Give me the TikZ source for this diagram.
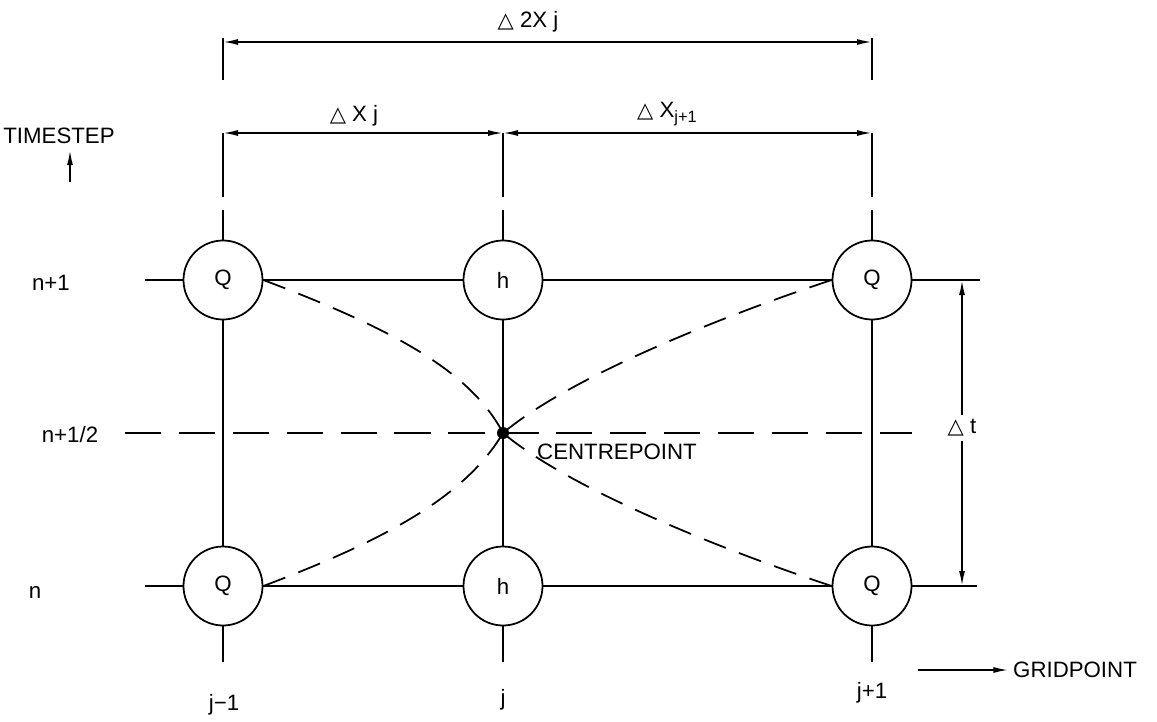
\documentclass[tikz,border=0pt]{standalone}
\usepackage{fontspec}
\setmainfont{Liberation Sans}
\newfontfamily\symfont{DejaVu Sans}
\usetikzlibrary{arrows.meta}
\newcommand{\dlt}{{\symfont\fontsize{18}{18}\selectfont △}}
\tikzset{
  every node/.style={font=\fontsize{19}{22}\selectfont},
  >={Latex[length=4.5mm,width=1.8mm]},
  gridpt/.style={circle, draw, line width=1.5pt, minimum size=2.37cm, inner sep=0pt},
  dashline/.style={dash pattern=on 31pt off 15pt},
  curveline/.style={dash pattern=on 20pt off 12pt}
}
\begin{document}
\begin{tikzpicture}[x=0.03cm, y=-0.03cm, line width=1.5pt]
\useasboundingbox (0,0) rectangle (1157,721);
% grid points
\node[gridpt] (q1t) at (223,280) {Q};
\node[gridpt] (ht) at (503,280) {h};
\node[gridpt] (q3t) at (872,280) {Q};
\node[gridpt] (q1b) at (223,586) {Q};
\node[gridpt] (hb) at (503,586) {h};
\node[gridpt] (q3b) at (872,586) {Q};
\coordinate (cp) at (503,433);
% free ends
\coordinate (lt) at (145,280);
\coordinate (rt) at (980,280);
\coordinate (lb) at (145,586);
\coordinate (rb) at (977,586);
\coordinate (ml) at (125,433);
\coordinate (mr) at (912,433);
% rows
\draw (lt) -- (q1t) -- (ht) -- (q3t) -- (rt);
\draw (lb) -- (q1b) -- (hb) -- (q3b) -- (rb);
\draw[dashline] (ml) -- (mr);
% columns
\draw (q1t) -- (q1b);
\draw (ht) -- (hb);
\draw (q3t) -- (q3b);
\foreach \c/\x in {q1/223, h/503, q3/872} {
  \draw (\c t.north) -- (\x,210);
  \draw (\x,197) -- (\x,133);
  \draw (\c b.south) -- (\x,662);
}
\draw (223,38) -- (223,80);
\draw (872,38) -- (872,80);
% centrepoint
\draw[curveline] (q1t.east) .. controls (390,328) and (470,370) .. (cp);
\draw[curveline] (q1b.east) .. controls (385,540) and (465,497) .. (cp);
\draw[curveline] (q3t.west) .. controls (720,317) and (570,377) .. (cp);
\draw[curveline] (q3b.west) .. controls (720,549) and (570,489) .. (cp);
\fill (cp) circle (0.18cm);
\node (cpl) at (617,452) {CENTREPOINT};
% dimensions
\coordinate (d2l) at (223,42);
\coordinate (d2r) at (872,42);
\coordinate (d1l) at (223,133);
\coordinate (d1m) at (503,133);
\coordinate (d1r) at (872,133);
\draw[<->] (d2l) -- (d2r);
\draw[<->] (d1l) -- (d1m);
\draw[<->] (d1m) -- (d1r);
\node (dx2) at (528,22) {\dlt\ 2X j};
\node (dx1) at (354,116) {\dlt\ X j};
\node (dx3) at (667,114) {\dlt\ X\raisebox{-0.45ex}{\fontsize{14}{14}\selectfont j+1}};
\coordinate (dtt) at (962,280);
\coordinate (dtb) at (962,586);
\node (dtl) at (962,428) {\dlt\ t};
\draw[->] (dtl.north) -- (dtt);
\draw[->] (dtl.south) -- (dtb);
% axes labels
\node (ts) at (59,136) {TIMESTEP};
\coordinate (tsa) at (70,182);
\coordinate (tsb) at (70,150);
\draw[->] (tsa) -- (tsb);
\node (gp) at (1075,670) {GRIDPOINT};
\coordinate (gpa) at (918,670);
\draw[->] (gpa) -- (gp.west);
\node (r1) at (51,283) {n+1};
\node (r2) at (70,435) {n+1/2};
\node (r3) at (35,592) {n};
\node (c1) at (224,705) {j−1};
\node (c2) at (503,700) {j};
\node (c3) at (872,693) {j+1};
\end{tikzpicture}
\end{document}
